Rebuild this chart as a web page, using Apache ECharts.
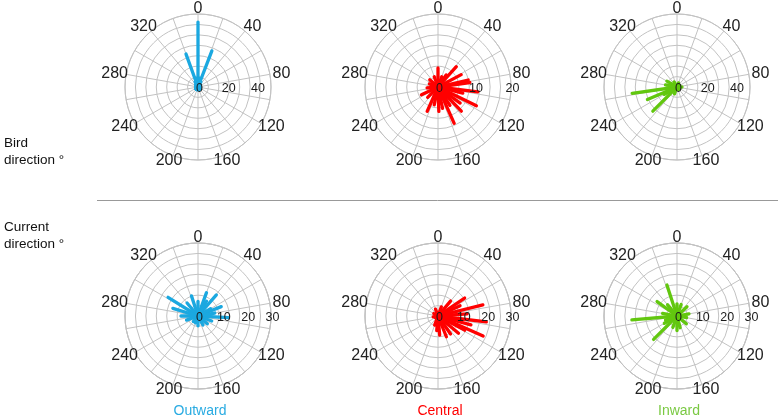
<!DOCTYPE html>
<html>
<head>
<meta charset="utf-8">
<script src="https://cdn.jsdelivr.net/npm/echarts@6/dist/echarts.min.js"></script>
<style>html,body{margin:0;padding:0;background:#fff}#c{width:778px;height:420px}</style>
</head>
<body>
<div id="c"></div>
<script>
// Angle tick labels (degrees)
const angleTicks = [0, 40, 80, 120, 160, 200, 240, 280, 320];
// Radial tick labels per panel
const radialTicksBirdOutward = [0, 20, 40];
const radialTicksBirdCentral = [0, 10, 20];
const radialTicksBirdInward = [0, 20, 40];
const radialTicksCurrent = [0, 10, 20, 30];
const radialMax = [50, 20, 50, 30, 30, 30];

// Bird direction vectors: direction (deg) and length
const birdOutwardDir = [0, 340, 21, 350, 10, 30, 330, 180, 200, 160];
const birdOutwardLen = [44.5, 24, 26.5, 6, 6, 4, 4, 2, 2, 2];

const birdCentralDir = [0, 20, 34, 42, 62, 77, 82, 97, 104, 116, 126, 136, 147, 156, 168, 178, 192, 204, 225, 245, 265, 290, 311, 340];
const birdCentralLen = [5.2, 3, 4, 7.5, 7.2, 8.5, 8.8, 11, 7, 11.7, 7.5, 9.2, 6, 10.9, 6, 6.7, 5, 7.3, 4, 5, 3, 2.5, 3, 3];

const birdInwardDir = [262, 247, 225, 300, 330, 20, 90, 200, 280, 240];
const birdInwardLen = [31, 22, 23.4, 8, 4, 3, 3.4, 5, 8, 10];

// Current direction vectors
const currentOutwardDir = [302, 287, 342, 20, 41, 68, 93, 151, 0, 320, 270, 250, 110, 130, 180, 200, 220, 60, 30, 80];
const currentOutwardLen = [14.5, 10.8, 8.7, 10.2, 11.5, 10.3, 12.5, 4.2, 6, 7, 7, 5, 6, 5, 4, 3, 3, 6, 7, 7];

const currentCentralDir = [56, 76, 97, 114, 118, 158, 175, 40, 65, 86, 105, 130, 145, 185, 200, 260, 300, 340, 20];
const currentCentralLen = [13.2, 19, 20, 20.3, 12.4, 9.2, 7.9, 8, 10, 12, 14, 11, 9, 6, 4, 2, 2, 3, 4];

const currentInwardDir = [265, 225, 342, 306, 47, 165, 0, 20, 80, 100, 130, 180, 200, 240, 280, 320, 250];
const currentInwardLen = [18.6, 13.6, 13.4, 10.1, 5.6, 5, 5, 5, 5, 4, 5, 6, 5, 6, 6, 6, 5];

const panelNames = ['Outward', 'Central', 'Inward'];
const panelColors = ['#1ba8e0', '#ff0000', '#62c70f'];
const labelColors = ['#29abe2', '#ff0000', '#7ac943'];

const panels = [
  {c: [198, 87], dir: birdOutwardDir, len: birdOutwardLen, ticks: radialTicksBirdOutward, col: 0},
  {c: [438, 87], dir: birdCentralDir, len: birdCentralLen, ticks: radialTicksBirdCentral, col: 1},
  {c: [677, 87], dir: birdInwardDir, len: birdInwardLen, ticks: radialTicksBirdInward, col: 2},
  {c: [198, 316], dir: currentOutwardDir, len: currentOutwardLen, ticks: radialTicksCurrent, col: 0},
  {c: [438, 316], dir: currentCentralDir, len: currentCentralLen, ticks: radialTicksCurrent, col: 1},
  {c: [677, 316], dir: currentInwardDir, len: currentInwardLen, ticks: radialTicksCurrent, col: 2}
];

const gridColor = '#c2c2c2';
const FONT = 'Liberation Sans, Arial, sans-serif';
const LABEL_RX = 1.16, LABEL_RY = 1.08; // angle label placement relative to outer radius
const polar = [], angleAxis = [], radiusAxis = [], series = [];

panels.forEach((p, i) => {
  const M = radialMax[i];
  polar.push({center: p.c, radius: 73});
  angleAxis.push({
    polarIndex: i, type: 'value', min: 0, max: 360, interval: 20, startAngle: 90, clockwise: true,
    axisLine: {show: true, lineStyle: {color: gridColor, width: 1}},
    axisTick: {show: false},
    splitLine: {show: true, lineStyle: {color: gridColor, width: 1}},
    axisLabel: {show: false}
  });
  radiusAxis.push({
    polarIndex: i, type: 'value', min: 0, max: M, interval: M / 7,
    axisLine: {show: false}, axisTick: {show: false}, axisLabel: {show: false},
    splitLine: {show: true, lineStyle: {color: gridColor, width: 1}}
  });
  const color = panelColors[p.col];
  series.push({
    type: 'custom', coordinateSystem: 'polar', polarIndex: i,
    data: p.dir.map((d, k) => [p.len[k], d]),
    encode: {radius: 0, angle: 1},
    renderItem: (params, api) => {
      const r = api.value(0), a = api.value(1);
      const p0 = api.coord([0, a]);
      const p1 = api.coord([r, a]);
      return {
        type: 'group',
        children: [
          {type: 'line', shape: {x1: p0[0], y1: p0[1], x2: p1[0], y2: p1[1]},
           style: {stroke: color, lineWidth: 3.3, lineCap: 'round'}},
          {type: 'circle', shape: {cx: p0[0], cy: p0[1], r: 4}, style: {fill: color}}
        ]
      };
    },
    z: 2
  });
  // radial tick labels
  series.push({
    type: 'custom', coordinateSystem: 'polar', polarIndex: i,
    data: p.ticks.map(t => [t, 90]),
    encode: {radius: 0, angle: 1},
    renderItem: (params, api) => {
      const pt = api.coord([api.value(0), api.value(1)]);
      return {type: 'text', x: pt[0] + 1.5, y: pt[1] + 2,
        style: {text: String(api.value(0)), fill: '#1a1a1a', fontSize: 12.5, fontFamily: FONT,
                textAlign: 'center', textVerticalAlign: 'middle'}};
    },
    silent: true, z: 5
  });
  // angle tick labels, centred just outside the outer circle
  series.push({
    type: 'custom', coordinateSystem: 'polar', polarIndex: i,
    data: angleTicks.map(a => [M, a]),
    encode: {radius: 0, angle: 1},
    renderItem: (params, api) => {
      const a = api.value(1);
      const c0 = api.coord([0, a]);
      const c1 = api.coord([api.value(0), a]);
      const x = c0[0] + (c1[0] - c0[0]) * LABEL_RX;
      const y = c0[1] + (c1[1] - c0[1]) * LABEL_RY;
      return {type: 'text', x: x, y: y,
        style: {text: String(a), fill: '#222', fontSize: 16, fontFamily: FONT,
                textAlign: 'center', textVerticalAlign: 'middle'}};
    },
    silent: true, z: 5
  });
});

const txt = (x, y, s, color, align, size) => ({
  type: 'text', x: x, y: y,
  style: {text: s, fill: color, fontSize: size || 13.5, fontFamily: FONT,
          textAlign: align || 'left', textVerticalAlign: 'middle'}
});

const graphic = [
  {type: 'line', shape: {x1: 97, y1: 200.5, x2: 778, y2: 200.5}, style: {stroke: '#999', lineWidth: 1}},
  txt(4, 143, 'Bird', '#111'),
  txt(4, 160, 'direction °', '#111'),
  txt(4, 227, 'Current', '#111'),
  txt(4, 244, 'direction °', '#111'),
  txt(200, 411, panelNames[0], labelColors[0], 'center', 14),
  txt(440, 411, panelNames[1], labelColors[1], 'center', 14),
  txt(679, 411, panelNames[2], labelColors[2], 'center', 14)
];

const chart = echarts.init(document.getElementById('c'));
chart.setOption({animation: false, polar, angleAxis, radiusAxis, series, graphic});
</script>
</body>
</html>
